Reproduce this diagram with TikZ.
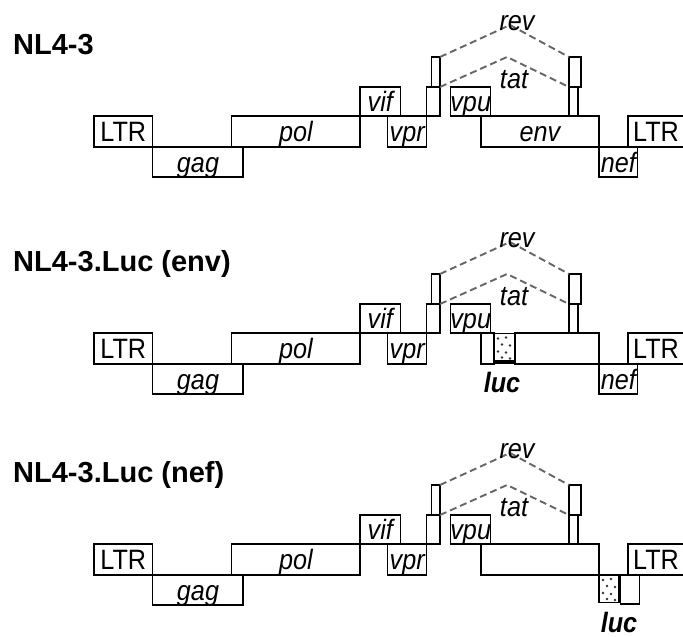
\documentclass[tikz,border=0pt]{standalone}
\usepackage{fontspec}
\setmainfont{Liberation Sans}
\newfontfamily\genefont[FakeStretch=0.9]{Liberation Sans}
\usetikzlibrary{positioning}

% Genome map shared by the three constructs
\newcommand{\provirus}{%
  % 5' LTR, gag, pol
  \draw[box] (94,116) rectangle (152.7,147);
  \draw[box] (152.7,147) rectangle (243,177);
  \draw[box] (231.7,116) rectangle (360,147);
  \node[lbl] (ltr5) at (123.3,141) {LTR};
  \node[lbl] (gag) at (198,172) {\itshape gag};
  \node[lbl] (pol) at (296,141) {\itshape pol};

  % vif, vpr
  \draw[box] (360,87) rectangle (400.7,116);
  \draw[box] (387.7,116) rectangle (426.7,147);
  \node[lbl] (vif) at (380.3,111) {\itshape vif};
  \node[lbl] (vpr) at (407.2,141) {\itshape vpr};

  % tat/rev exons and vpu
  \draw[box] (426.7,87) rectangle (440,116);
  \draw[box] (431.7,57) rectangle (440,87);
  \draw[box] (450.7,87) rectangle (490.7,116);
  \draw[box] (569,57) rectangle (581,87);
  \draw[box] (569,87) rectangle (578,116);
  \node[lbl] (vpu) at (470.7,111) {\itshape vpu};

  % 3' LTR, cut by the margin
  \draw[box] (683,116) -- (628,116) -- (628,147) -- (683,147);
  \node[lbl] (ltr3) at (656,141) {LTR};

  % Splicing
  \coordinate (rev5) at (440,57);
  \coordinate (revtop) at (510,25);
  \coordinate (rev3) at (569,57);
  \coordinate (tat5) at (440,87);
  \coordinate (tattop) at (507,57);
  \coordinate (tat3) at (569,87);
  \draw[splice] (rev5) -- (revtop) -- (rev3);
  \draw[splice] (tat5) -- (tattop) -- (tat3);
  \node[lbl] (rev) at (517,30) {\itshape rev};
  \node[lbl] (tat) at (514,88) {\itshape tat};
}

% Dotted luciferase box, from its top left corner
\newcommand{\lucbox}[2]{%
  \draw[box] (#1,#2) rectangle (#1+21.5,#2+27.5);
  \foreach \dx/\dy in {4/5, 12/4, 8/11, 16/12, 4/18, 12/19, 8/24, 16/25}
    \fill[black!80] (#1+\dx,#2+\dy) circle[radius=1.3pt];
}

\begin{document}
\begin{tikzpicture}[x=1pt, y=-1pt,
    box/.style={line width=1.3pt, line join=miter},
    lbl/.style={anchor=base, inner sep=0pt, font=\genefont\fontsize{28}{30}\selectfont},
    title/.style={anchor=base west, inner sep=0pt, font=\bfseries\fontsize{29}{30}\selectfont},
    splice/.style={line width=1.9pt, black!60, dash pattern=on 7pt off 4pt}]

  \useasboundingbox (0,0) rectangle (683,637);

  % NL4-3
  \begin{scope}[name prefix=wt-]
    \node[title] (name) at (13,54) {NL4-3};
    \provirus
    \draw[box] (481,116) rectangle (599,147);
    \draw[box] (599,147) rectangle (637.7,177);
    \node[lbl] (env) at (540,141) {\itshape env};
    \node[lbl] (nef) at (618.3,172) {\itshape nef};
  \end{scope}

  % NL4-3.Luc (env)
  \begin{scope}[shift={(0,217)}, name prefix=env-]
    \node[title] (name) at (13,54) {NL4-3.Luc (env)};
    \provirus
    \draw[box] (481,116) rectangle (494,147);
    \lucbox{494}{116.5}
    \draw[line width=2.6pt] (494,146) -- (515,146);
    \draw[box] (515,116) rectangle (599,147);
    \draw[box] (599,147) rectangle (637.7,177);
    \node[lbl] (nef) at (618.3,172) {\itshape nef};
    \node[lbl] (luc) at (502,175) {\bfseries\itshape luc};
  \end{scope}

  % NL4-3.Luc (nef)
  \begin{scope}[shift={(0,428)}, name prefix=nef-]
    \node[title] (name) at (13,54) {NL4-3.Luc (nef)};
    \provirus
    \draw[box] (481,116) rectangle (599,147);
    \lucbox{599}{147}
    \draw[line width=2.6pt] (619.7,147) -- (619.7,174.5);
    \draw[box] (620.7,147) rectangle (639.3,176);
    \node[lbl] (luc) at (619,204) {\bfseries\itshape luc};
  \end{scope}
\end{tikzpicture}
\end{document}
